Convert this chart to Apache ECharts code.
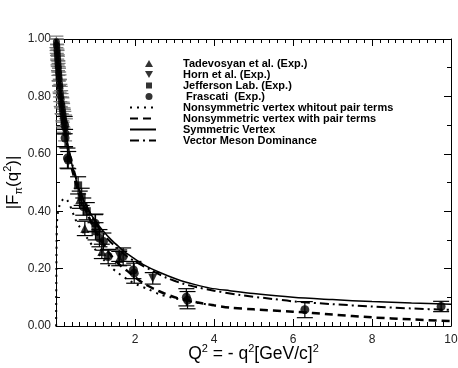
<!DOCTYPE html>
<html>
<head>
<meta charset="utf-8">
<script src="https://cdn.jsdelivr.net/npm/echarts@6/dist/echarts.min.js"></script>
<style>
  html, body { margin: 0; padding: 0; background: #fff; }
  #formFactor { width: 458px; height: 368px; }
</style>
</head>
<body>
<div id="formFactor"></div>
<script>
// Q^2 in (GeV/c)^2, |F_pi|
var xTicks = [0, 2, 4, 6, 8, 10];
var yTicks = [0, 0.2, 0.4, 0.6, 0.8, 1.0];

// dense low-Q2 data cluster (not in legend)
var clusterQ2 = [0.010, 0.015, 0.020, 0.025, 0.030, 0.035, 0.040, 0.045, 0.050, 0.055, 0.060, 0.065, 0.070, 0.075, 0.080, 0.090, 0.095, 0.100, 0.110, 0.120, 0.130, 0.140, 0.150, 0.160, 0.170, 0.180, 0.190, 0.200, 0.210, 0.230, 0.250];
var clusterF  = [0.990, 0.980, 0.975, 0.962, 0.955, 0.945, 0.935, 0.925, 0.915, 0.905, 0.898, 0.885, 0.878, 0.868, 0.860, 0.845, 0.835, 0.828, 0.812, 0.800, 0.790, 0.775, 0.768, 0.755, 0.745, 0.735, 0.725, 0.715, 0.708, 0.690, 0.672];
var clusterErr = [0.02, 0.02, 0.025, 0.02, 0.025, 0.02, 0.025, 0.02, 0.025, 0.02, 0.025, 0.03, 0.025, 0.03, 0.025, 0.03, 0.025, 0.03, 0.03, 0.035, 0.03, 0.035, 0.03, 0.04, 0.035, 0.04, 0.035, 0.04, 0.04, 0.045, 0.05];

var tadQ2 = [0.60, 0.73, 1.00, 1.16, 1.60];
var tadF  = [0.44, 0.34, 0.36, 0.26, 0.235];
var tadErr = [0.03, 0.025, 0.03, 0.025, 0.025];

var hornQ2 = [1.60, 2.45];
var hornF  = [0.245, 0.166];
var hornErr = [0.02, 0.02];

var jlabQ2 = [0.56, 0.65, 0.78, 1.00];
var jlabF  = [0.49, 0.45, 0.40, 0.33];
var jlabErr = [0.03, 0.03, 0.03, 0.03];

var frasQ2 = [0.22, 0.23, 0.29, 0.31, 0.69, 0.99, 1.10, 1.20, 1.32, 1.70, 1.96, 1.98, 3.30, 3.33, 6.30, 9.75];
var frasF  = [0.700, 0.655, 0.585, 0.578, 0.416, 0.358, 0.306, 0.294, 0.242, 0.242, 0.195, 0.184, 0.100, 0.090, 0.057, 0.068];
var frasErr = [0.03, 0.03, 0.035, 0.03, 0.03, 0.03, 0.03, 0.03, 0.025, 0.03, 0.03, 0.035, 0.03, 0.03, 0.028, 0.018];

// model curves
var noPairQ2 = [0.004, 0.006, 0.010, 0.015, 0.025, 0.05, 0.10, 0.15, 0.23, 0.30, 0.40, 0.48, 0.60, 0.79, 1.00, 1.20, 1.37, 1.58, 1.80, 2.04, 2.34, 2.63, 2.90, 3.30, 3.60, 4.00];
var noPairF  = [0.00, 0.10, 0.20, 0.30, 0.36, 0.395, 0.425, 0.437, 0.445, 0.435, 0.405, 0.375, 0.345, 0.306, 0.265, 0.232, 0.207, 0.184, 0.163, 0.145, 0.128, 0.110, 0.100, 0.088, 0.080, 0.072];

var pairQ2 = [0, 0.1, 0.2, 0.3, 0.4, 0.5, 0.6, 0.8, 1.0, 1.2, 1.37, 1.6, 1.87, 2.2, 2.6, 3.06, 3.56, 4.0, 4.4, 5, 6, 7, 8, 9, 10];
var pairF  = [1.0, 0.83, 0.71, 0.62, 0.55, 0.50, 0.455, 0.39, 0.33, 0.285, 0.25, 0.215, 0.185, 0.15, 0.122, 0.098, 0.083, 0.072, 0.064, 0.058, 0.05, 0.04, 0.03, 0.023, 0.017];

var symQ2 = [0, 0.05, 0.1, 0.15, 0.2, 0.25, 0.3, 0.4, 0.5, 0.6, 0.8, 1.0, 1.2, 1.4, 1.6, 1.8, 2.0, 2.2, 2.6, 3.06, 3.5, 3.9, 4.4, 5, 6, 7, 8, 9, 10];
var symF  = [1.0, 0.915, 0.83, 0.765, 0.715, 0.67, 0.63, 0.565, 0.515, 0.47, 0.41, 0.365, 0.33, 0.30, 0.275, 0.252, 0.233, 0.215, 0.188, 0.163, 0.145, 0.132, 0.123, 0.113, 0.10, 0.092, 0.085, 0.08, 0.076];

var vmdQ2 = [0, 0.1, 0.2, 0.3, 0.4, 0.5, 0.6, 0.8, 1.0, 1.2, 1.4, 1.6, 1.8, 2.0, 2.4, 2.8, 3.2, 3.6, 4.0, 4.66, 5.5, 6, 7, 8, 9, 10];
var vmdF  = [1.0, 0.84, 0.72, 0.63, 0.57, 0.52, 0.47, 0.41, 0.36, 0.32, 0.29, 0.265, 0.242, 0.225, 0.195, 0.168, 0.148, 0.134, 0.123, 0.108, 0.094, 0.086, 0.076, 0.068, 0.061, 0.056];

var legendNames = ['Tadevosyan et al. (Exp.)', 'Horn et al. (Exp.)', 'Jefferson Lab. (Exp.)', ' Frascati  (Exp.)',
  'Nonsymmetric vertex whitout pair terms', 'Nonsymmetric vertex with pair terms', 'Symmetric Vertex', 'Vector Meson Dominance'];

function pairs(xs, ys) { return xs.map(function (x, i) { return [x, ys[i]]; }); }
function bars(xs, ys, es) { return xs.map(function (x, i) { return [x, ys[i] - es[i], ys[i] + es[i]]; }); }

function errorBar(color, half) {
  return function (params, api) {
    var top = api.coord([api.value(0), api.value(2)]);
    var bot = api.coord([api.value(0), api.value(1)]);
    var st = { stroke: color, lineWidth: 1.2 };
    return {
      type: 'group',
      children: [
        { type: 'line', shape: { x1: top[0], y1: top[1], x2: bot[0], y2: bot[1] }, style: st },
        { type: 'line', shape: { x1: top[0] - half, y1: top[1], x2: top[0] + half, y2: top[1] }, style: st },
        { type: 'line', shape: { x1: bot[0] - half, y1: bot[1], x2: bot[0] + half, y2: bot[1] }, style: st }
      ]
    };
  };
}

var font = 'Liberation Sans, Arial, sans-serif';
var chart = echarts.init(document.getElementById('formFactor'));

var boxAxis = {
  min: 0, axisLine: { show: true, onZero: false, lineStyle: { color: '#000', width: 1 } },
  axisTick: { show: true, inside: true, length: 7, lineStyle: { color: '#000' } },
  splitLine: { show: false }
};

// legend icons: the box is 26x9, marker sits right of centre like the original
var box = 'path://M0,0 M26,9 ';
var markerIcons = [
  box + 'M19,1 L23,8 L15,8 Z',
  box + 'M15,1 L23,1 L19,8 Z',
  box + 'M16,1.5 L22,1.5 L22,7.5 L16,7.5 Z',
  box + 'M15.5,4.5 A3.5,3.5 0 1 0 22.5,4.5 A3.5,3.5 0 1 0 15.5,4.5 Z'
];
var legendData = legendNames.map(function (n, i) {
  return i < 4 ? { name: n, icon: markerIcons[i] } : { name: n, itemStyle: { opacity: 0 } };
});

var option = {
  animation: false,
  backgroundColor: '#fff',
  grid: { left: 56, right: 7, top: 39, bottom: 42, outerBoundsMode: 'none', containLabel: false },
  legend: {
    data: legendData,
    symbolRotate: 0,
    orient: 'vertical',
    left: 129, top: 58,
    itemWidth: 26, itemHeight: 9, itemGap: 0,
    padding: 0,
    textStyle: { fontFamily: font, fontWeight: 'bold', fontSize: 11, lineHeight: 10, color: '#000', padding: [0, 0, 0, 22] }
  },
  xAxis: [
    Object.assign({}, boxAxis, {
      type: 'value', max: 10, interval: 2, position: 'bottom',
      minorTick: { show: true, splitNumber: 10, length: 4, lineStyle: { color: '#000' } },
      axisLabel: { fontFamily: font, fontSize: 12, color: '#222', margin: 8,
        formatter: function (v) { return v === 0 ? '' : String(v); } },
      name: '{t|Q}{s|2}{t| = - q}{s|2}{t|[GeV/c]}{s|2}',
      nameLocation: 'middle', nameGap: 17, nameMoveOverlap: false,
      nameTextStyle: { rich: {
        t: { fontFamily: font, fontSize: 17.5, color: '#000', lineHeight: 22 },
        s: { fontFamily: font, fontSize: 11, color: '#000', lineHeight: 12, verticalAlign: 'top' }
      } }
    }),
    Object.assign({}, boxAxis, {
      type: 'value', max: 10, interval: 2, position: 'top',
      minorTick: { show: true, splitNumber: 10, length: 4, lineStyle: { color: '#000' } },
      axisLabel: { show: false }
    })
  ],
  yAxis: [
    Object.assign({}, boxAxis, {
      type: 'value', max: 1, interval: 0.2, position: 'left',
      minorTick: { show: true, splitNumber: 2, length: 4, lineStyle: { color: '#000' } },
      axisLabel: { fontFamily: font, fontSize: 12, color: '#222', margin: 5,
        formatter: function (v) { return v.toFixed(2); } },
      name: '{t||F}{b|π}{t|(q}{s|2}{t|)|}',
      nameLocation: 'middle', nameRotate: 90, nameGap: 32, nameMoveOverlap: false,
      nameTextStyle: { rich: {
        t: { fontFamily: font, fontSize: 17, color: '#000', lineHeight: 22 },
        b: { fontFamily: font, fontSize: 11, color: '#000', lineHeight: 12, verticalAlign: 'bottom' },
        s: { fontFamily: font, fontSize: 11, color: '#000', lineHeight: 12, verticalAlign: 'top' }
      } }
    }),
    Object.assign({}, boxAxis, {
      type: 'value', max: 1, interval: 0.2, position: 'right',
      minorTick: { show: true, splitNumber: 2, length: 4, lineStyle: { color: '#000' } },
      axisLabel: { show: false }
    })
  ],
  series: [
    { type: 'custom', name: 'clusterErr', renderItem: errorBar('#777', 7), encode: { x: 0, y: [1, 2] },
      data: bars(clusterQ2, clusterF, clusterErr), z: 1, silent: true },
    { type: 'custom', name: 'dataErr', renderItem: errorBar('#000', 8), encode: { x: 0, y: [1, 2] },
      data: bars(tadQ2, tadF, tadErr).concat(bars(hornQ2, hornF, hornErr), bars(jlabQ2, jlabF, jlabErr), bars(frasQ2, frasF, frasErr)),
      z: 1, silent: true },
    { type: 'scatter', name: 'cluster', symbol: 'circle', symbolSize: 7, itemStyle: { color: '#000' },
      data: pairs(clusterQ2, clusterF), z: 3 },
    { type: 'scatter', name: legendNames[0], symbol: 'triangle', symbolSize: 9, itemStyle: { color: '#000' },
      data: pairs(tadQ2, tadF), z: 3 },
    { type: 'scatter', name: legendNames[1], symbol: 'triangle', symbolRotate: 180, symbolSize: 9, itemStyle: { color: '#000' },
      data: pairs(hornQ2, hornF), z: 3 },
    { type: 'scatter', name: legendNames[2], symbol: 'rect', symbolSize: 8, itemStyle: { color: '#000' },
      data: pairs(jlabQ2, jlabF), z: 3 },
    { type: 'scatter', name: legendNames[3], symbol: 'circle', symbolSize: 9, itemStyle: { color: '#000' },
      data: pairs(frasQ2, frasF), z: 3 },
    { type: 'line', name: legendNames[4], showSymbol: false, symbol: 'none', smooth: 0.3, color: '#000',
      lineStyle: { color: '#000', width: 2, type: [2, 5] }, data: pairs(noPairQ2, noPairF), z: 2 },
    { type: 'line', name: legendNames[5], showSymbol: false, symbol: 'none', smooth: 0.3, color: '#000',
      lineStyle: { color: '#000', width: 2.5, type: [8, 5] }, data: pairs(pairQ2, pairF), z: 2 },
    { type: 'line', name: legendNames[6], showSymbol: false, symbol: 'none', smooth: 0.3, color: '#000',
      lineStyle: { color: '#000', width: 1.5 }, data: pairs(symQ2, symF), z: 2 },
    { type: 'line', name: legendNames[7], showSymbol: false, symbol: 'none', smooth: 0.3, color: '#000',
      lineStyle: { color: '#000', width: 2, type: [9, 4, 2, 4] }, data: pairs(vmdQ2, vmdF), z: 2 }
  ]
};

chart.setOption(option);
</script>
</body>
</html>
